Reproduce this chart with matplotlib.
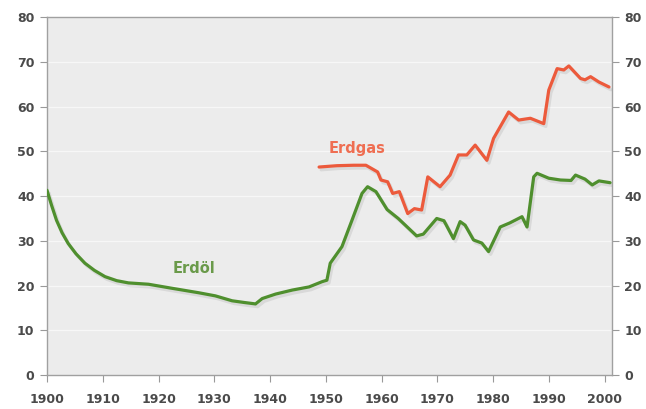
import matplotlib
matplotlib.use("Agg")
import matplotlib.pyplot as plt
import matplotlib.patheffects as pe

# Erdöl (green line)
oel_jahr = [1900, 1900.8, 1901.7, 1902.7, 1903.8, 1905.2, 1906.8, 1908.5, 1910.4, 1912.5,
            1914.6, 1918.2, 1922.4, 1927.2, 1930.2, 1933.2, 1935.5, 1937.4, 1938.6, 1941.0,
            1944.0, 1947.0, 1949.4, 1950.2, 1950.8, 1952.9, 1954.7, 1956.5, 1957.5, 1959.0,
            1961.0, 1963.0, 1966.3, 1967.5, 1969.9, 1971.2, 1972.9, 1974.1, 1975.0, 1976.5,
            1978.0, 1979.2, 1981.3, 1983.0, 1985.2, 1986.1, 1987.3, 1987.9, 1990.0, 1992.1,
            1994.0, 1994.8, 1996.5, 1997.8, 1999.0, 2001.0]
oel_wert = [41.3, 38.0, 34.6, 31.8, 29.4, 27.1, 25.0, 23.4, 22.0, 21.1,
            20.6, 20.3, 19.4, 18.4, 17.7, 16.6, 16.2, 15.9, 17.1, 18.1,
            19.0, 19.7, 20.9, 21.2, 25.0, 28.7, 34.6, 40.6, 42.1, 41.0,
            37.0, 35.0, 31.1, 31.5, 35.0, 34.5, 30.5, 34.3, 33.5, 30.2,
            29.5, 27.6, 33.1, 34.0, 35.4, 33.1, 44.3, 45.1, 44.0, 43.6,
            43.5, 44.7, 43.8, 42.5, 43.4, 43.0]

# Erdgas (red line)
gas_jahr = [1948.8, 1952.0, 1955.0, 1957.2, 1959.3, 1959.9, 1961.1, 1962.0, 1963.2, 1964.7,
            1965.9, 1967.2, 1968.3, 1970.5, 1972.3, 1973.8, 1975.3, 1976.8, 1978.9, 1980.1,
            1982.8, 1984.6, 1986.7, 1989.1, 1990.0, 1991.5, 1992.7, 1993.6, 1995.7, 1996.5,
            1997.5, 1999.0, 2000.8]
gas_wert = [46.5, 46.8, 46.9, 46.9, 45.4, 43.6, 43.2, 40.6, 41.0, 36.1,
            37.2, 36.9, 44.3, 42.1, 44.7, 49.2, 49.2, 51.4, 48.0, 52.9,
            58.8, 57.0, 57.4, 56.2, 63.7, 68.5, 68.2, 69.1, 66.3, 66.0,
            66.7, 65.5, 64.4]

x_ticks = list(range(1900, 2001, 10))
y_ticks = list(range(0, 81, 10))

gruen = "#4f8f2e"
rot = "#ec5a3c"
text_farbe = "#4a4a4a"

fig = plt.figure(figsize=(6.46, 4.09), dpi=100)
ax = fig.add_axes([0.0728, 0.083, 0.8742, 0.875])
ax.set_facecolor("#ececec")

schatten = [pe.SimpleLineShadow(offset=(1.5, -2), alpha=0.10, shadow_color="#333333"), pe.Normal()]
ax.plot(oel_jahr, oel_wert, color=gruen, lw=2.3, solid_capstyle="round", path_effects=schatten, zorder=3)
ax.plot(gas_jahr, gas_wert, color=rot, lw=2.3, solid_capstyle="round", path_effects=schatten, zorder=3)

ax.text(1926.3, 23.9, "Erdöl", color="#6a9a4a", fontsize=10.5, fontweight="bold",
        ha="center", va="center")
ax.text(1955.7, 50.7, "Erdgas", color="#ef6e52", fontsize=10.5, fontweight="bold",
        ha="center", va="center")

ax.set_xlim(1900, 2001.3)
ax.set_ylim(0, 80)
ax.set_xticks(x_ticks)
ax.set_yticks(y_ticks)
ax.grid(axis="y", color="white", lw=0.9, alpha=0.6)
ax.set_axisbelow(True)

ax.tick_params(axis="both", labelsize=9, colors="#999999", labelcolor=text_farbe, length=5)
ax.tick_params(axis="x", pad=8)
ax.tick_params(axis="y", labelleft=True, labelright=True, left=True, right=True, pad=4)
for lab in ax.get_xticklabels() + ax.get_yticklabels():
    lab.set_fontweight("bold")

for s in ax.spines.values():
    s.set_color("#a0a0a0")
    s.set_linewidth(1.0)

fig.savefig("out.png", dpi=100)
